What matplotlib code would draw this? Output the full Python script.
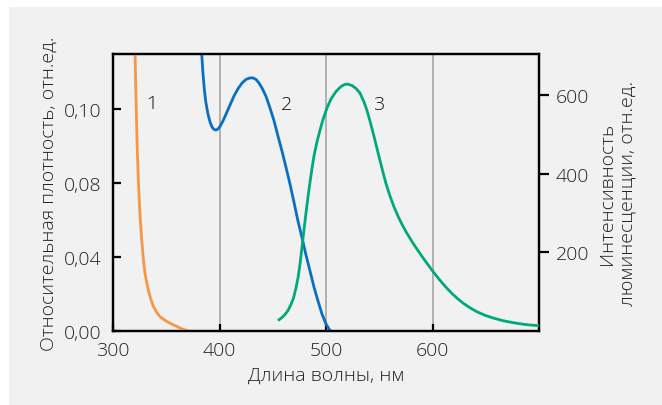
import numpy as np
import matplotlib
matplotlib.use("Agg")
import matplotlib.pyplot as plt
from matplotlib.patches import Rectangle

plt.rcParams['font.family'] = ['Open Sans', 'DejaVu Sans']

# Curve 1 (orange) - optical density
wl1 = [320.2, 320.7, 321.4, 322.3, 323.0, 323.8, 324.6, 325.6, 326.9, 328.5, 329.6, 331.0, 332.9,
       335.4, 338.0, 341.0, 344.1, 347.9, 351.9, 356.3, 361.0, 364.8, 369.2]
od1 = [0.1189, 0.1149, 0.1054, 0.0946, 0.0870, 0.0811, 0.0714, 0.0605, 0.0497, 0.0389, 0.0330, 0.0281, 0.0227,
       0.0173, 0.0132, 0.0101, 0.0078, 0.0061, 0.0047, 0.0034, 0.0022, 0.0011, 0.0003]

# Curve 2 (blue) - optical density
wl2 = [381.7, 383.3, 384.5, 385.9, 387.3, 389.2, 391.1, 393.0, 394.8, 396.7, 398.6, 400.5, 403.3, 406.1,
       409.9, 413.6, 417.4, 421.1, 424.9, 428.6, 431.5, 434.3, 437.1, 439.9, 443.7, 447.4, 451.2, 454.9,
       458.7, 462.4, 466.2, 469.9, 473.7, 477.5, 481.2, 485.0, 488.7, 492.5, 496.2, 500.0, 503.8]
od2 = [0.1189, 0.1149, 0.1095, 0.1049, 0.1016, 0.0986, 0.0965, 0.0951, 0.0945, 0.0943, 0.0946, 0.0953, 0.0968, 0.0986,
       0.1011, 0.1035, 0.1055, 0.1070, 0.1080, 0.1084, 0.1084, 0.1080, 0.1070, 0.1057, 0.1034, 0.1003, 0.0968, 0.0927,
       0.0886, 0.0843, 0.0794, 0.0697, 0.0594, 0.0503, 0.0411, 0.0324, 0.0238, 0.0162, 0.0092, 0.0038, 0.0002]

# Curve 3 (green) - luminescence intensity
wl3 = [455.9, 458.7, 461.5, 464.3, 467.1, 469.5, 471.8, 473.7, 475.6, 477.5, 479.3, 481.2, 483.1, 485.0,
       486.9, 488.7, 491.5, 494.4, 497.2, 500.9, 504.7, 509.4, 514.1, 516.9, 520.0, 524.4, 528.2, 531.9,
       535.7, 538.5, 541.3, 545.1, 548.8, 552.6, 556.3, 560.1, 563.8, 567.6, 571.4, 575.1, 578.9, 582.6,
       586.4, 590.1, 593.9, 597.7, 601.4, 607.0, 612.7, 618.3, 623.9, 629.6, 635.2, 641.8, 649.3, 656.8,
       666.2, 675.6, 685.0, 692.5, 700.0]
lum3 = [28.7, 34.3, 42.0, 52.1, 67.4, 83.9, 109.3, 134.8, 170.4, 213.6, 256.8, 300.0, 340.7, 378.8,
        414.4, 444.9, 480.5, 511.1, 537.8, 567.0, 589.9, 609.0, 621.7, 626.0, 628.0, 624.2, 616.6, 605.1,
        582.3, 560.6, 533.9, 494.5, 453.9, 413.2, 375.0, 343.0, 316.0, 292.0, 271.0, 252.5, 235.5, 219.5,
        204.5, 189.9, 175.4, 161.5, 148.0, 128.9, 111.1, 95.3, 81.4, 69.2, 59.0, 48.8, 39.9, 33.1,
        26.2, 21.2, 17.3, 15.0, 13.4]

x_ticks = [300, 400, 500, 600]
y_ticks_left = [0.00, 0.04, 0.08, 0.10]
y_labels_left = ['0,00', '0,04', '0,08', '0,10']
y_ticks_right = [200, 400, 600]
curve_labels = ['1', '2', '3']
curve_label_pos = [(336.3, 0.1016), (463.1, 0.1014), (549.8, 0.1014)]

c_orange = '#f79646'
c_blue = '#0a6fc0'
c_green = '#00a97a'
txt = '#222222'
bg = '#f1f1f1'
FS = 14
FW = 'light'

# piecewise-linear axis: equal spacing for 0, 0.04, 0.08, 0.10
def fwd(y):
    y = np.asarray(y, dtype=float)
    return np.where(y <= 0.04, y / 0.04,
                    np.where(y <= 0.08, 1 + (y - 0.04) / 0.04, 2 + (y - 0.08) / 0.02))

def inv(u):
    u = np.asarray(u, dtype=float)
    return np.where(u <= 1, u * 0.04,
                    np.where(u <= 2, 0.04 + (u - 1) * 0.04, 0.08 + (u - 2) * 0.02))

W, H = 662, 406
fig = plt.figure(figsize=(W / 100, H / 100), dpi=100, facecolor='white')
fig.patches.append(Rectangle((9 / W, 0), 1 - 9 / W, 1 - 8 / H, transform=fig.transFigure,
                             facecolor=bg, edgecolor='none', zorder=-10))

ax = fig.add_axes([113 / W, 1 - 332 / H, (539 - 113) / W, (332 - 55) / H])
ax.set_facecolor(bg)
ax.set_yscale('function', functions=(fwd, inv))
ax.set_xlim(300, 700)
ax.set_ylim(0, 0.10 + (277 / 74 - 3) * 0.02)

for xv in [400, 500, 600]:
    ax.axvline(xv, color='#a0a0a0', lw=1.1, zorder=1)

ax.plot(wl1, od1, color=c_orange, lw=2.0, zorder=3, solid_joinstyle='round')
ax.plot(wl2, od2, color=c_blue, lw=2.0, zorder=3, solid_joinstyle='round')

ax.set_xticks(x_ticks)
ax.set_xticklabels([str(v) for v in x_ticks])
ax.set_yticks(y_ticks_left)
ax.set_yticklabels(y_labels_left)
ax.yaxis.set_minor_locator(matplotlib.ticker.NullLocator())
ax.tick_params(axis='both', direction='in', length=6, width=1.6, color='black',
               labelsize=FS, labelcolor=txt)
ax.tick_params(axis='y', pad=8)
ax.tick_params(axis='x', pad=7, length=5)
for t in ax.get_xticklabels() + ax.get_yticklabels():
    t.set_fontweight(FW)
for s in ax.spines.values():
    s.set_linewidth(1.6)
    s.set_color('black')

ax.set_xlabel('Длина волны, нм', fontsize=FS, color=txt, labelpad=5, fontweight=FW)
ax.set_ylabel('Относительная плотность, отн.ед.', fontsize=FS, color=txt, labelpad=5, fontweight=FW)

for lab, (lx, ly) in zip(curve_labels, curve_label_pos):
    ax.text(lx, ly, lab, fontsize=FS, color='#111111', ha='center', va='center', fontweight=FW)

ax2 = ax.twinx()
ax2.set_ylim(0, 277 / 0.3933)
ax2.plot(wl3, lum3, color=c_green, lw=2.0, zorder=3, solid_joinstyle='round')
ax2.set_yticks(y_ticks_right)
ax2.tick_params(axis='y', direction='out', length=7, width=1.6, color='black',
                labelsize=FS, labelcolor=txt, pad=5)
for t in ax2.get_yticklabels():
    t.set_fontweight(FW)
for s in ax2.spines.values():
    s.set_linewidth(1.6)
    s.set_color('black')
ax2.set_ylabel('Интенсивность\nлюминесценции, отн.ед.', fontsize=FS, color=txt,
               labelpad=6, linespacing=1.2, fontweight=FW)

fig.savefig('out.png', dpi=100, facecolor='white')
